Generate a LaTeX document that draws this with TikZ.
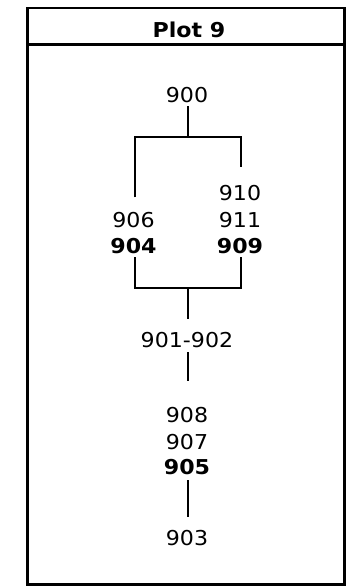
\documentclass[tikz,border=0pt]{standalone}
\usepackage{fontspec}
\setmainfont[FakeStretch=1.08]{DejaVu Sans}
\begin{document}
\begin{tikzpicture}[x=1pt,y=-1pt,
  lbl/.style={inner sep=0pt,anchor=base,font=\fontsize{20.5}{24}\selectfont},
  blbl/.style={lbl,font=\fontsize{20.5}{24}\selectfont\bfseries},
  conn/.style={line width=2.3pt},
  frame/.style={line width=2.8pt}]
\useasboundingbox (0,0) rectangle (347,587);
% frame
\draw[frame] (27.5,8) rectangle (344.8,584.7);
\draw[frame] (27.5,44.5) -- (344.8,44.5);
\node[inner sep=0pt,anchor=base,font=\fontsize{20.5}{24}\selectfont\bfseries] (title) at (189,37) {Plot 9};
% labels
\node[lbl] (n900) at (187,102.3) {900};
\node[lbl] (n910) at (240,200.5) {910};
\node[lbl] (n911) at (240,227.5) {911};
\node[blbl] (n909) at (240,253.5) {909};
\node[lbl] (n906) at (133.5,227.5) {906};
\node[blbl] (n904) at (133.5,253.5) {904};
\node[lbl] (n901) at (187,347.3) {901-902};
\node[lbl] (n908) at (187,422.5) {908};
\node[lbl] (n907) at (187,449.5) {907};
\node[blbl] (n905) at (187,474.5) {905};
\node[lbl] (n903) at (187,545.5) {903};
% junctions
\coordinate (jt) at (188,137);
\coordinate (jb) at (188,288);
% connectors
\draw[conn] ([xshift=1pt,yshift=-3.7pt]n900.south) -- (jt);
\draw[conn] ([xshift=1.5pt,yshift=14.6pt]n906.north) |- (jt) -| ([xshift=0.7pt,yshift=17.6pt]n910.north);
\draw[conn] ([xshift=1.5pt,yshift=-3.5pt]n904.south) |- (jb) -| ([xshift=0.7pt,yshift=-3.5pt]n909.south);
\draw[conn] (jb) -- ([xshift=1pt,yshift=12.4pt]n901.north);
\draw[conn] ([xshift=1pt,yshift=-4.7pt]n901.south) -- ([xshift=1pt,yshift=25.6pt]n908.north);
\draw[conn] ([xshift=1pt,yshift=-5.5pt]n905.south) -- ([xshift=1pt,yshift=12.6pt]n903.north);
\end{tikzpicture}
\end{document}
